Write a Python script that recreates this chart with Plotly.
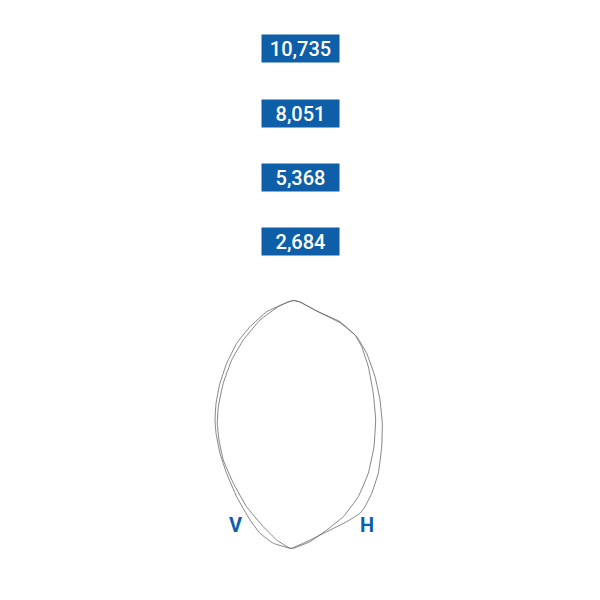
import numpy as np
import plotly.graph_objects as go

# Polar intensity data (angle in degrees from nadir, negative = left; intensity in cd)
v_angle = [-180, -132.5, -108.4, -80.3, -67.5, -59.5, -52.0, -46.0, -40.8, -36.7, -33.4, -28.5,
           -23.7, -18.4, -13.15, -9.98, -6.42, -2.36,
           -1.58, 2.43, 6.8, 11.61, 17.0, 22.2, 27.74, 33.58, 40.0, 48.37, 56.6, 62.2,
           67.3, 73.3, 180]
v_cd = [167, 340, 528, 1410, 2258, 3066, 3881, 4641, 5362, 5933, 6363, 6994,
        7621, 8383, 9169, 9629, 9962, 10117,
        10113, 9842, 9412, 8974, 8319, 7539, 6633, 5707, 4756, 3813, 3083, 2595,
        1806, 727, 167]

h_angle = [-180, -132.5, -108.4, -88.2, -70.7, -59.05, -51.7, -44.8, -39.05, -35.2, -31.15, -26.5,
           -20.6, -14.9, -9.44, -5.69, -2.36,
           -1.96, 1.63, 6.75, 12.2, 16.14, 17.94, 20.95, 25.08, 30.14, 35.05, 40.4, 46.7,
           54.65, 61.57, 68.57, 73.3, 180]
h_cd = [167, 340, 528, 906, 1768, 2758, 3633, 4543, 5411, 5987, 6533, 7176,
        7902, 8665, 9333, 9812, 10117,
        10113, 9837, 9483, 9208, 9003, 8803, 8369, 7706, 6788, 5978, 5148, 4301,
        3413, 2691, 1794, 727, 167]

ring_values = [2684, 5368, 8051, 10735]
curve_names = ["V", "H"]
label_pos = {"V": (-2670, -9137), "H": (2795, -9137)}

BLUE = "#0e5ea8"
LINE = "#666666"


def to_xy(angles, cds):
    a = np.radians(np.array(angles, dtype=float))
    r = np.array(cds, dtype=float)
    return r * np.sin(a), -r * np.cos(a)


fig = go.Figure()
for name, ang, cd in [("V", v_angle, v_cd), ("H", h_angle, h_cd)]:
    x, y = to_xy(ang, cd)
    fig.add_trace(go.Scatter(x=x, y=y, mode="lines", name=name,
                             line=dict(color=LINE, width=0.8, shape="spline", smoothing=0.3),
                             hoverinfo="skip", showlegend=False))

for v in ring_values:
    fig.add_annotation(x=0, y=v, xref="x", yref="y", text=f"{v:,}", showarrow=False,
                       xanchor="center", yanchor="middle",
                       font=dict(family="Roboto", size=20, color="white", weight=500),
                       bgcolor=BLUE, borderpad=3, width=71, height=21)

for name in curve_names:
    lx, ly = label_pos[name]
    fig.add_annotation(x=lx, y=ly, xref="x", yref="y", text=name, showarrow=False,
                       font=dict(family="Roboto", size=20, color=BLUE, weight="bold"))

k = 41.72
fig.update_layout(
    width=600, height=600,
    margin=dict(l=0, r=0, t=0, b=0),
    paper_bgcolor="white", plot_bgcolor="white",
    xaxis=dict(range=[-292 * k, 308 * k], visible=False, fixedrange=True),
    yaxis=dict(range=[-302 * k, 298 * k], visible=False, fixedrange=True),
)

fig.write_html("out.html")
